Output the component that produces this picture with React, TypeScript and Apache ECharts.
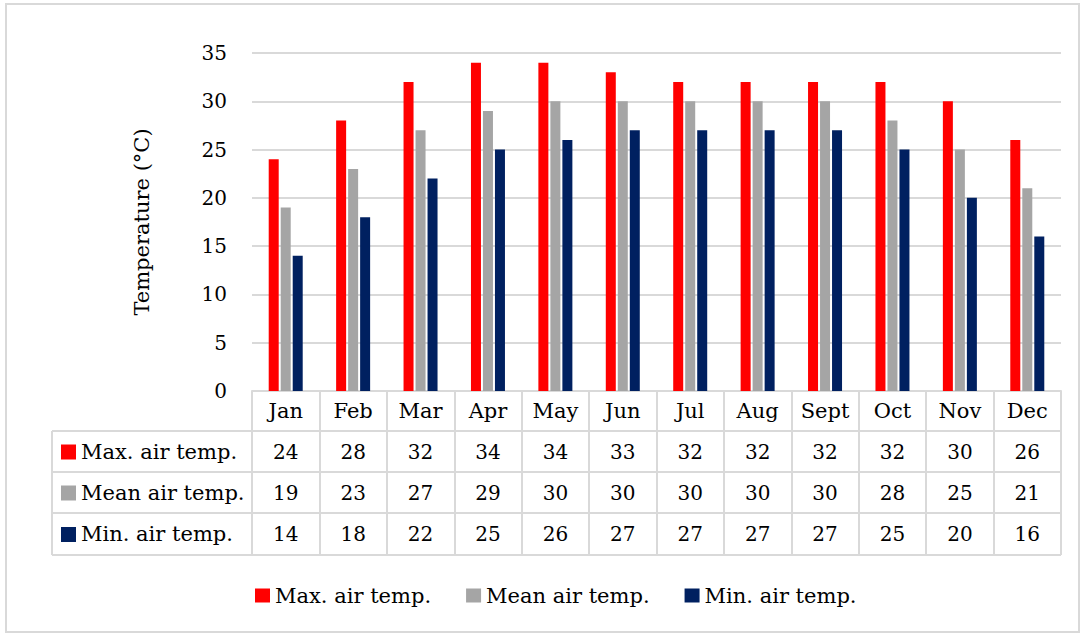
import React, { useEffect, useRef } from "react";
import * as echarts from "echarts";

const months = ["Jan", "Feb", "Mar", "Apr", "May", "Jun", "Jul", "Aug", "Sept", "Oct", "Nov", "Dec"];
const maxTemp = [24, 28, 32, 34, 34, 33, 32, 32, 32, 32, 30, 26];
const meanTemp = [19, 23, 27, 29, 30, 30, 30, 30, 30, 28, 25, 21];
const minTemp = [14, 18, 22, 25, 26, 27, 27, 27, 27, 25, 20, 16];
const seriesNames = ["Max. air temp.", "Mean air temp.", "Min. air temp."];
const seriesColors = ["#ff0000", "#a5a5a5", "#002060"];
const yMin = 0;
const yMax = 35;
const yInterval = 5;

const FONT = "'DejaVu Serif', serif";
const FS = 21;
const FS_NUM = 20;
const GRID = "#d9d9d9";

export default function App() {
  const ref = useRef<HTMLDivElement>(null);
  useEffect(() => {
    if (!ref.current) return;
    const chart = echarts.init(ref.current, null, { renderer: "svg" });
    const data = [maxTemp, meanTemp, minTemp];
    const gridLeft = 252;
    const gridRight = 1061;
    const gridTop = 53;
    const axisY = 391;
    const rowLines = [431, 472, 513, 555];
    const tableLeft = 52;

    chart.setOption({
      animation: false,
      backgroundColor: "#ffffff",
      grid: { left: gridLeft, right: 1081 - gridRight, top: gridTop, bottom: 634 - axisY, containLabel: false },
      legend: {
        left: 250,
        top: 580,
        itemWidth: 15,
        itemHeight: 14,
        itemGap: 35,
        icon: "rect",
        textStyle: { fontFamily: FONT, fontSize: FS, color: "#000" },
        data: seriesNames,
      },
      xAxis: {
        type: "category",
        data: months,
        axisLine: { show: true, lineStyle: { color: GRID, width: 2 } },
        axisTick: { show: true, interval: 0, length: rowLines[3] - axisY, lineStyle: { color: GRID, width: 2 } },
        axisLabel: { interval: 0, margin: 9, fontFamily: FONT, fontSize: FS, color: "#000" },
      },
      yAxis: {
        type: "value",
        min: yMin,
        max: yMax,
        interval: yInterval,
        name: "Temperature (°C)",
        nameLocation: "middle",
        nameRotate: 90,
        nameGap: 100,
        nameTextStyle: { fontFamily: FONT, fontSize: FS, color: "#000" },
        axisLine: { show: false },
        axisTick: { show: false },
        axisLabel: { margin: 25, fontFamily: FONT, fontSize: FS_NUM, color: "#000" },
        splitLine: { lineStyle: { color: GRID, width: 2 } },
      },
      series: seriesNames.map((name, i) => ({
        name,
        type: "bar",
        data: data[i],
        barWidth: 10,
        barGap: "20%",
        itemStyle: { color: seriesColors[i] },
      })),
    });

    const graphics: any[] = [];
    graphics.push({
      type: "rect",
      shape: { x: 6, y: 4, width: 1073, height: 628 },
      style: { fill: "none", stroke: GRID, lineWidth: 2 },
      silent: true,
    });
    rowLines.forEach((y) => {
      graphics.push({
        type: "line",
        shape: { x1: tableLeft, y1: y, x2: gridRight, y2: y },
        style: { stroke: GRID, lineWidth: 2 },
      });
    });
    graphics.push({
      type: "line",
      shape: { x1: tableLeft, y1: rowLines[0], x2: tableLeft, y2: rowLines[3] },
      style: { stroke: GRID, lineWidth: 2 },
    });
    for (let r = 0; r < 3; r++) {
      const cy = (rowLines[r] + rowLines[r + 1]) / 2;
      graphics.push({
        type: "rect",
        shape: { x: 61, y: cy - 7, width: 15, height: 15 },
        style: { fill: seriesColors[r] },
      });
      graphics.push({
        type: "text",
        x: 81,
        y: cy,
        style: {
          text: seriesNames[r],
          fontFamily: FONT,
          fontSize: FS,
          fill: "#000",
          verticalAlign: "middle",
          align: "left",
        },
      });
      data[r].forEach((v, i) => {
        const px = chart.convertToPixel({ xAxisIndex: 0 }, i) as number;
        graphics.push({
          type: "text",
          x: px,
          y: cy,
          style: {
            text: String(v),
            fontFamily: FONT,
            fontSize: FS_NUM,
            fill: "#000",
            verticalAlign: "middle",
            align: "center",
          },
        });
      });
    }
    chart.setOption({ graphic: { elements: graphics } });

    return () => chart.dispose();
  }, []);
  return <div ref={ref} style={{ position: "absolute", left: 0, top: 0, width: 1081, height: 634 }} />;
}
